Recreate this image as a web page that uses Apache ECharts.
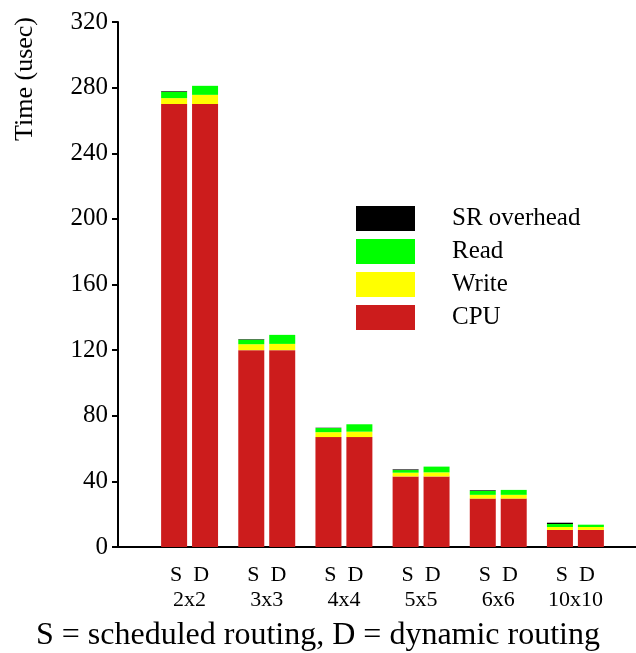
<!DOCTYPE html>
<html>
<head>
<meta charset="utf-8">
<script src="https://cdn.jsdelivr.net/npm/echarts@6/dist/echarts.min.js"></script>
<style>html,body{margin:0;padding:0;background:#fff}#c{width:636px;height:653px}</style>
</head>
<body>
<div id="c"></div>
<script>
const categories = ['2x2', '3x3', '4x4', '5x5', '6x6', '10x10'];
const yTicks = [0, 40, 80, 120, 160, 200, 240, 280, 320];
// Scheduled routing (S)
const cpuS   = [270, 120, 67, 43, 29.5, 10.4];
const writeS = [3.6, 3.6, 3, 2.3, 2.3, 1.8];
const readS  = [3.8, 2.8, 2.5, 1.6, 2.4, 1.8];
const srS    = [0.4, 0.3, 0.2, 0.4, 0.4, 0.8];
// Dynamic routing (D)
const cpuD   = [270, 120, 67, 43, 29.5, 10.4];
const writeD = [5.6, 3.8, 3.3, 2.5, 2.3, 1.8];
const readD  = [5.5, 5.5, 4.5, 3.5, 3, 1.4];
const srD    = [0, 0, 0, 0, 0, 0];

const FONT = 'Liberation Serif';
const colors = { cpu: '#cc1c1c', write: '#ffff00', read: '#00ff00', sr: '#000000' };

function mk(name, stack, data, color) {
  return {
    name: name, type: 'bar', stack: stack, data: data,
    xAxisIndex: 1, yAxisIndex: 1,
    barWidth: 26, barGap: '19%',
    itemStyle: { color: color },
    emphasis: { disabled: true }
  };
}

const chart = echarts.init(document.getElementById('c'), null, { renderer: 'canvas' });
chart.setOption({
  animation: false,
  backgroundColor: '#ffffff',
  textStyle: { fontFamily: FONT, color: '#000' },
  title: {
    text: 'S = scheduled routing, D = dynamic routing',
    left: 'center', top: 620, padding: 0,
    textStyle: { fontFamily: FONT, fontSize: 32, fontWeight: 'normal', color: '#000' }
  },
  legend: {
    data: ['SR overhead', 'Read', 'Write', 'CPU'],
    orient: 'vertical',
    left: 351, top: 201,
    itemWidth: 59, itemHeight: 25, itemGap: 8,
    icon: 'rect',
    textStyle: { fontFamily: FONT, fontSize: 25, color: '#000', padding: [0, 0, 0, 32] }
  },
  graphic: [{
    type: 'text',
    left: 12, top: 17,
    rotation: Math.PI / 2,
    style: { text: 'Time (usec)', font: '26px "Liberation Serif"', fill: '#000' }
  }],
  grid: [
    { left: 118, right: 0, top: 22, bottom: 106 },
    { left: 151, right: 22, top: 22, bottom: 106 }
  ],
  xAxis: [
    { gridIndex: 0, type: 'category', data: categories,
      axisLine: { lineStyle: { color: '#000', width: 2 } },
      axisTick: { show: false }, axisLabel: { show: false }, splitLine: { show: false } },
    { gridIndex: 1, type: 'category', data: categories,
      axisLine: { show: false }, axisTick: { show: false }, splitLine: { show: false },
      axisLabel: {
        margin: 16, color: '#000', fontFamily: FONT, fontSize: 22, lineHeight: 25,
        formatter: function (v) { return 'S  D\n' + v; }
      } }
  ],
  yAxis: [
    { gridIndex: 0, type: 'value', min: yTicks[0], max: yTicks[yTicks.length - 1], interval: 40,
      axisLine: { show: true, lineStyle: { color: '#000', width: 2 } },
      axisTick: { show: true, length: 6, lineStyle: { color: '#000', width: 2 } },
      splitLine: { show: false },
      axisLabel: { color: '#000', fontFamily: FONT, fontSize: 25, margin: 10 } },
    { gridIndex: 1, type: 'value', min: yTicks[0], max: yTicks[yTicks.length - 1], interval: 40,
      show: false, splitLine: { show: false } }
  ],
  series: [
    mk('CPU', 'S', cpuS, colors.cpu),
    mk('Write', 'S', writeS, colors.write),
    mk('Read', 'S', readS, colors.read),
    mk('SR overhead', 'S', srS, colors.sr),
    mk('CPU', 'D', cpuD, colors.cpu),
    mk('Write', 'D', writeD, colors.write),
    mk('Read', 'D', readD, colors.read),
    mk('SR overhead', 'D', srD, colors.sr)
  ]
});
</script>
</body>
</html>
